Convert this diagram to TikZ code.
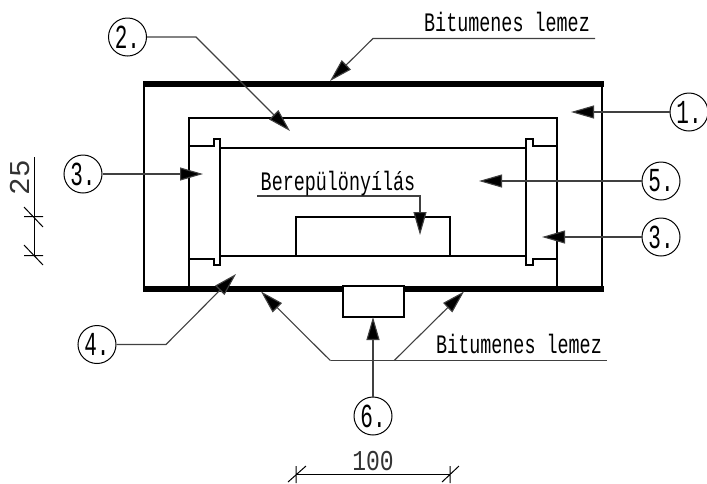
\documentclass[tikz,border=0pt]{standalone}
\usepackage{fontspec}
\setmainfont{Liberation Mono}
\usetikzlibrary{arrows.meta}
\tikzset{
  x=1pt,y=-1pt,
  wall/.style={draw=black,line width=2pt,line join=miter},
  band/.style={fill=black,draw=none},
  leader/.style={draw=black!75,line width=1.1pt},
  arrowed/.style={leader,-{Triangle[length=23pt,width=13pt,fill=black]}},
  bubble/.style={circle,draw=black,line width=1pt,minimum size=38pt,inner sep=0pt,font=\fontsize{21}{21}\selectfont},
  lbl/.style={inner sep=0pt,anchor=base,font=\fontsize{18.4}{18.4}\selectfont},
  dimlbl/.style={inner sep=0pt,anchor=base,text=black!80,font=\fontsize{23}{23}\selectfont},
  dim/.style={draw=black,line width=1pt},
}
\newcommand{\tall}[1]{\scalebox{1}[1.45]{#1}}
\newcommand{\talldig}[1]{\scalebox{1}[1.6]{#1}}
\newcommand{\talldim}[1]{\scalebox{1}[1.25]{#1}}
\begin{document}
\begin{tikzpicture}
\useasboundingbox (0,0) rectangle (707,483);
% walls
\draw[wall] (143.5,84) -- (143.5,289) (602,84) -- (602,289);
\node[band,minimum width=460.5pt,minimum height=6.5pt,inner sep=0pt,anchor=north west] (topband) at (143,80.7) {};
\node[band,minimum width=460.5pt,minimum height=6.5pt,inner sep=0pt,anchor=north west] (botband) at (143,285.5) {};
\draw[wall] (189,286) -- (189,117.5) -- (557,117.5) -- (557,286);
\draw[wall] (189,145.5) -- (213.5,145.5) -- (213.5,139) -- (220,139) -- (220,264.5) -- (213.5,264.5) -- (213.5,258.5) -- (189,258.5);
\draw[wall] (557,145.5) -- (533,145.5) -- (533,139) -- (526,139) -- (526,264.5) -- (533,264.5) -- (533,258.5) -- (557,258.5);
\draw[wall] (220,148) -- (526,148) (220,255.7) -- (526,255.7);
\draw[wall] (296,255.7) -- (296,217) -- (450,217) -- (450,255.7);
\node[draw=black,line width=2pt,fill=white,minimum width=61pt,minimum height=31pt,inner sep=0pt,anchor=north west] (foot) at (341.5,285) {};
% bubbles
\node[bubble] (n2) at (127.5,37) {\talldig{2.}};
\node[bubble] (n3a) at (83,174) {\talldig{3.}};
\node[bubble] (n1) at (689,112) {\talldig{1.}};
\node[bubble] (n5) at (661,181) {\talldig{5.}};
\node[bubble] (n3b) at (661,237) {\talldig{3.}};
\node[bubble] (n4) at (97,344.5) {\talldig{4.}};
\node[bubble] (n6) at (373,416) {\talldig{6.}};
% coordinates
\coordinate (k2) at (196,37);
\coordinate (t2) at (290,131);
\coordinate (t3a) at (203,174);
\coordinate (t1) at (571,112);
\coordinate (t5) at (479,181);
\coordinate (t3b) at (542,237);
\coordinate (k4) at (166,344.5);
\coordinate (t4) at (236,274);
\coordinate (t6) at (373,317);
\coordinate (bt1) at (595,38.5);
\coordinate (bt2) at (373,38.5);
\coordinate (bt3) at (330,81);
\coordinate (bb1) at (606.5,360.7);
\coordinate (bb2) at (330.5,360.7);
\coordinate (bb3) at (394,360.7);
\coordinate (tbl) at (261,291.5);
\coordinate (tbr) at (464,291.5);
\coordinate (op1) at (257,196);
\coordinate (op2) at (420,196);
\coordinate (op3) at (420,235);
% leaders
\draw[arrowed] (n2.east) -- (k2) -- (t2);
\draw[arrowed] (n3a.east) -- (t3a);
\draw[arrowed] (n1.west) -- (t1);
\draw[arrowed] (n5.west) -- (t5);
\draw[arrowed] (n3b.west) -- (t3b);
\draw[arrowed] (n4.east) -- (k4) -- (t4);
\draw[arrowed] (n6.north) -- (t6);
\draw[arrowed] (bt1) -- (bt2) -- (bt3);
\draw[leader] (bb1) -- (bb2);
\draw[arrowed] (bb2) -- (tbl);
\draw[arrowed] (bb3) -- (tbr);
\draw[arrowed] (op1) -- (op2) -- (op3);
% labels
\node[lbl] (lt) at (507,31) {\tall{Bitumenes lemez}};
\node[lbl] (lb) at (519,353) {\tall{Bitumenes lemez}};
\node[lbl] (lo) at (338,190) {\scalebox{1.0}[1.45]{Berepülönyílás}};
% dim 25
\coordinate (da) at (34,157);
\coordinate (db) at (34,256);
\draw[dim] (da) -- (db);
\draw[dim] (24,216.7) -- (43,216.7) (24,207) -- (43,227);
\draw[dim] (24,255.7) -- (43,255.7) (24,245) -- (43,265);
\node[dimlbl,rotate=90] (d25) at (29,177.5) {\scalebox{1.27}[1.25]{25}};
% dim 100
\coordinate (dc) at (296,474.7);
\coordinate (dd) at (450,474.7);
\draw[dim] (dc) -- (dd);
\draw[dim] (296,466) -- (296,483) (288,482) -- (306,466);
\draw[dim] (450,466) -- (450,483) (442,482) -- (459,466);
\node[dimlbl] (d100) at (373,470) {\talldim{100}};
\end{tikzpicture}
\end{document}
